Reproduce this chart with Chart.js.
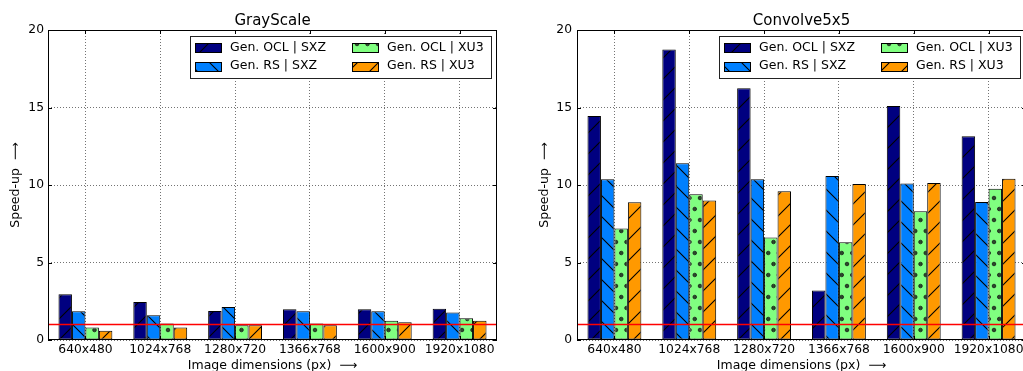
<!DOCTYPE html>
<html>
<head>
<meta charset="utf-8">
<script src="https://cdn.jsdelivr.net/npm/chart.js@4/dist/chart.umd.min.js"></script>
<style>
  html, body { margin: 0; padding: 0; background: #fff; width: 1023px; height: 371px; overflow: hidden; }
  .panel { position: absolute; top: 0; height: 373px; }
</style>
</head>
<body>
<div class="panel" style="left:0;width:511px"><canvas id="grayChart" width="511" height="373"></canvas></div>
<div class="panel" style="left:511px;width:515px"><canvas id="convChart" width="515" height="373"></canvas></div>
<script>
// Data
const categories = ['640x480', '1024x768', '1280x720', '1366x768', '1600x900', '1920x1080'];
const seriesNames = ['Gen. OCL | SXZ', 'Gen. RS | SXZ', 'Gen. OCL | XU3', 'Gen. RS | XU3'];

const grayOclSxz = [2.95, 2.45, 1.87, 1.98, 1.98, 2.02];
const grayRsSxz  = [1.85, 1.60, 2.13, 1.85, 1.85, 1.78];
const grayOclXu3 = [0.80, 1.07, 0.95, 1.07, 1.25, 1.40];
const grayRsXu3  = [0.60, 0.80, 0.95, 0.95, 1.14, 1.25];

const convOclSxz = [14.45, 18.75, 16.24, 3.20, 15.10, 13.14];
const convRsSxz  = [10.37, 11.40, 10.37, 10.58, 10.10, 8.90];
const convOclXu3 = [7.20, 9.40, 6.62, 6.30, 8.30, 9.76];
const convRsXu3  = [8.88, 9.00, 9.60, 10.06, 10.13, 10.40];

const yTicksMax = 20;
const yTickStep = 5;
const refLevel = 1;   // red speed-up = 1 line

const FONT = '"DejaVu Sans", "Liberation Sans", sans-serif';

// hatch patterns, matplotlib style
function hatch(bg, kind) {
    const c = document.createElement('canvas');
    const w = 21, h = kind === 'o' ? 22 : 21;
    c.width = w; c.height = h;
    const g = c.getContext('2d');
    g.fillStyle = bg;
    g.fillRect(0, 0, w, h);
    g.strokeStyle = '#000';
    g.lineWidth = 1.1;
    if (kind === '/') {
        g.beginPath();
        g.moveTo(0, h); g.lineTo(w, 0);
        g.moveTo(-2, 2); g.lineTo(2, -2);
        g.moveTo(w - 2, h + 2); g.lineTo(w + 2, h - 2);
        g.stroke();
    } else if (kind === '\\') {
        g.beginPath();
        g.moveTo(0, 0); g.lineTo(w, h);
        g.moveTo(w - 2, -2); g.lineTo(w + 2, 2);
        g.moveTo(-2, h - 2); g.lineTo(2, h + 2);
        g.stroke();
    } else if (kind === 'o') {
        const pts = [[0, 0], [10.5, 0], [21, 0], [0, 22], [10.5, 22], [21, 22], [5.25, 11], [15.75, 11]];
        g.fillStyle = '#2a4a2a';
        g.strokeStyle = '#1a1a1a';
        g.lineWidth = 0.8;
        pts.forEach(p => {
            g.beginPath();
            g.arc(p[0], p[1], 1.8, 0, Math.PI * 2);
            g.fill();
            g.stroke();
        });
    }
    return g.createPattern(c, 'repeat');
}

const seriesFill = [
    hatch('#000080', '/'),
    hatch('#0080ff', '\\'),
    hatch('#80ff80', 'o'),
    hatch('#ff9900', '/')
];

const chromePlugin = {
    id: 'chrome',
    afterDatasetsDraw(chart, args, opts) {
        const { ctx, chartArea: a, scales: { x, y } } = chart;
        ctx.save();

        // reference line
        const yr = y.getPixelForValue(refLevel);
        ctx.strokeStyle = '#ff0000';
        ctx.lineWidth = 1.3;
        ctx.beginPath();
        ctx.moveTo(a.left, yr);
        ctx.lineTo(a.right, yr);
        ctx.stroke();

        // axes frame
        ctx.strokeStyle = '#000';
        ctx.lineWidth = 1;
        ctx.strokeRect(a.left + 0.5, a.top + 0.5, a.width - 1, a.height - 1);

        // inward tick marks
        ctx.beginPath();
        y.ticks.forEach((t, i) => {
            const py = Math.round(y.getPixelForTick(i)) + 0.5;
            ctx.moveTo(a.left, py); ctx.lineTo(a.left + 4, py);
            ctx.moveTo(a.right, py); ctx.lineTo(a.right - 4, py);
        });
        x.ticks.forEach((t, i) => {
            const px = Math.round(x.getPixelForTick(i)) + 0.5;
            ctx.moveTo(px, a.top); ctx.lineTo(px, a.top + 4);
            ctx.moveTo(px, a.bottom); ctx.lineTo(px, a.bottom - 4);
        });
        ctx.stroke();

        // title centred over the axes
        ctx.fillStyle = '#000';
        ctx.font = '15px ' + FONT;
        ctx.textAlign = 'center';
        ctx.textBaseline = 'middle';
        ctx.fillText(opts.title, (a.left + a.right) / 2, 21);

        // legend box, two columns
        const bw = 301, bh = 42;
        const bx = Math.round(a.right - 6 - bw), by = a.top + 6;
        ctx.fillStyle = '#fff';
        ctx.fillRect(bx, by, bw, bh);
        ctx.strokeStyle = '#222';
        ctx.strokeRect(bx + 0.5, by + 0.5, bw, bh);
        ctx.font = '12.5px ' + FONT;
        ctx.textAlign = 'left';
        chart.data.datasets.forEach((ds, i) => {
            const col = Math.floor(i / 2), row = i % 2;
            const sx = bx + 5 + col * 157;
            const cy = by + 11.5 + row * 18.7;
            ctx.fillStyle = ds.backgroundColor;
            ctx.fillRect(sx, Math.round(cy - 4.5), 26, 9);
            ctx.strokeStyle = '#000';
            ctx.strokeRect(sx + 0.5, Math.round(cy - 4.5) + 0.5, 26, 9);
            ctx.fillStyle = '#000';
            ctx.fillText(ds.label, bx + 40 + col * 157, cy);
        });

        ctx.restore();
    }
};

function buildChart(id, title, values, opt) {
    const ctx = document.getElementById(id);
    return new Chart(ctx, {
        type: 'bar',
        data: {
            labels: categories,
            datasets: seriesNames.map((name, i) => ({
                label: name,
                data: values[i],
                backgroundColor: seriesFill[i],
                borderColor: '#000',
                borderWidth: 1,
                borderSkipped: false,
                categoryPercentage: 0.72,
                barPercentage: 1
            }))
        },
        options: {
            responsive: false,
            animation: false,
            layout: {
                padding: { top: 30, right: opt.padRight, bottom: 0, left: 0 }
            },
            plugins: {
                legend: { display: false },
                tooltip: { enabled: false },
                chrome: { title: title }
            },
            scales: {
                x: {
                    grid: { offset: false, color: 'rgba(0,0,0,0.55)', lineWidth: 1, drawTicks: false },
                    border: { display: false, dash: [1, 2] },
                    ticks: {
                        color: '#000',
                        font: { family: FONT, size: 12.3 },
                        padding: 2,
                        maxRotation: 0,
                        autoSkip: false
                    },
                    title: {
                        display: true,
                        text: 'Image dimensions (px)  \u27F6',
                        color: '#000',
                        font: { family: FONT, size: 12.5 },
                        padding: { top: 0, bottom: 0 }
                    },
                    afterFit(scale) { scale.height = 33; }
                },
                y: {
                    min: 0,
                    max: yTicksMax,
                    grid: { color: 'rgba(0,0,0,0.55)', lineWidth: 1, drawTicks: false },
                    border: { display: false, dash: [1, 2] },
                    ticks: {
                        stepSize: yTickStep,
                        color: '#000',
                        font: { family: FONT, size: 12.3 },
                        padding: opt.tickPad
                    },
                    title: {
                        display: true,
                        text: 'Speed-up  \u27F6',
                        color: '#000',
                        font: { family: FONT, size: 12.5 },
                        padding: { top: opt.titlePad, bottom: 0 }
                    },
                    afterFit(scale) { scale.width = opt.axisWidth; }
                }
            }
        },
        plugins: [chromePlugin]
    });
}

buildChart('grayChart', 'GrayScale',
    [grayOclSxz, grayRsSxz, grayOclXu3, grayRsXu3],
    { padRight: 14, axisWidth: 48, tickPad: 4, titlePad: 8.5 });

buildChart('convChart', 'Convolve5x5',
    [convOclSxz, convRsSxz, convOclXu3, convRsXu3],
    { padRight: 0, axisWidth: 66, tickPad: 5, titlePad: 26.5 });
</script>
</body>
</html>
